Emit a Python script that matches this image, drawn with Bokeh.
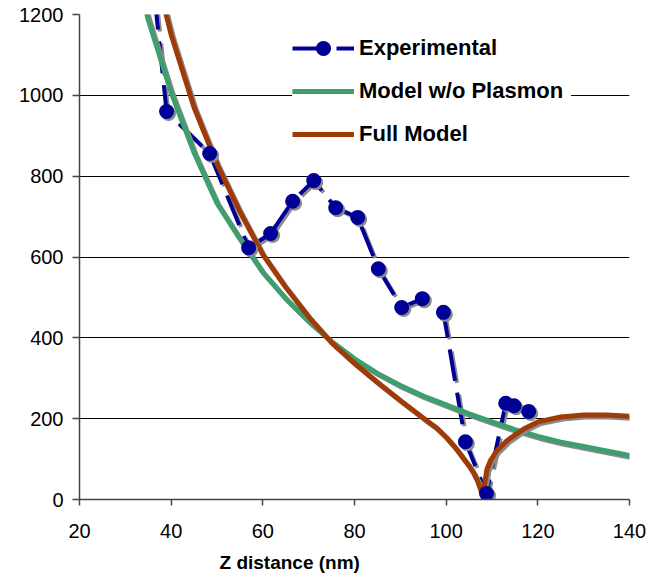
import numpy as np
from bokeh.plotting import figure
from bokeh.models import (FixedTicker, Legend, LegendItem, Title, Range1d)
from bokeh.embed import file_html
from bokeh.resources import INLINE

# ---- data ----
x_ticks = [20, 40, 60, 80, 100, 120, 140]
y_ticks = [0, 200, 400, 600, 800, 1000, 1200]

exp_x = [35.4, 39.0, 48.4, 56.9, 61.7, 66.5, 71.1, 75.9, 80.7, 85.2, 90.3, 94.8, 99.4,
         104.2, 108.8, 113.0, 114.8, 118.0]
exp_y = [1350, 960, 856, 623, 658, 738, 789, 722, 698, 571, 475, 497, 463,
         143, 15, 238, 232, 218]

nopl_x = [33, 35, 40, 45, 50, 55, 60, 65, 70, 75, 80, 85, 90, 95, 100, 105, 110,
          115, 120, 125, 130, 135, 140]
nopl_y = [1275, 1187, 1007, 858, 733, 645, 562, 497, 441, 391, 348, 312, 282, 256,
          234, 212, 192, 173, 156, 142, 131, 120, 109]

full_x = [38, 40, 45, 50, 55, 60, 65, 70, 75, 80, 85, 90, 93, 96, 98, 100, 102, 103,
          104, 105, 106, 106.8, 107.5, 108, 108.4, 108.9, 109.7, 111, 113.3, 117, 120,
          125, 130, 135, 140]
full_y = [1240, 1150, 970, 830, 712, 606, 525, 452, 388, 337, 290, 245, 219, 193, 176,
          154, 128, 113, 98, 83, 65, 47, 25, 8, 40, 75, 97, 120, 146, 175, 192,
          204, 209, 209, 206]

# ---- figure ----
W, H = 668, 582
BL, BR, BT, BB = 79, 39, 14, 83
X0, X1, Y0, Y1 = 20, 140, 0, 1200

p = figure(width=W, height=H, x_range=Range1d(X0, X1), y_range=Range1d(Y0, Y1),
           output_backend="svg", toolbar_location=None,
           min_border_left=BL, min_border_right=BR, min_border_top=BT, min_border_bottom=BB)
p.outline_line_color = None
p.background_fill_color = "white"

p.xgrid.visible = False
p.ygrid.grid_line_color = "black"
p.ygrid.grid_line_width = 1

p.xaxis.ticker = FixedTicker(ticks=x_ticks)
p.yaxis.ticker = FixedTicker(ticks=y_ticks)
for ax in (p.xaxis, p.yaxis):
    ax.minor_tick_line_color = None
    ax.axis_line_color = "#444444"
    ax.axis_line_width = 1.5
    ax.major_tick_line_color = "#444444"
    ax.major_tick_line_width = 1.5
    ax.major_tick_in = 0
    ax.major_label_text_font = "Liberation Sans"
    ax.major_label_text_font_size = "20px"
    ax.major_label_text_color = "black"
p.yaxis.major_tick_out = 7
p.yaxis.major_label_standoff = 9
p.xaxis.major_tick_out = 6
p.xaxis.major_label_standoff = 18

# pixel -> data offsets for the drop shadows
fw = W - BL - BR
fh = H - BT - BB
sdx = 2.0 * (X1 - X0) / fw
sdy = -2.0 * (Y1 - Y0) / fh

SH = "#8a8a8a"
BLUE = "#000096"
GREEN = "#3C9F6D"
ORANGE = "#A03A06"

ex = np.array(exp_x); ey = np.array(exp_y)
gx = np.array(nopl_x); gy = np.array(nopl_y)
fx = np.array(full_x); fy = np.array(full_y)

# experimental line (with shadow)
p.line(ex + sdx, ey + sdy, line_color=SH, line_width=4, line_dash="32 12")
exp_line = p.line(ex, ey, line_color=BLUE, line_width=4, line_dash="32 12")

# model without plasmon
p.line(gx + sdx, gy + sdy, line_color=SH, line_width=5)
g_line = p.line(gx, gy, line_color=GREEN, line_width=5)

# full model
p.line(fx + sdx, fy + sdy, line_color=SH, line_width=5)
o_line = p.line(fx, fy, line_color=ORANGE, line_width=5)

# experimental markers
p.scatter(ex + sdx, ey + sdy, marker="circle", size=15, fill_color=SH, line_color=None)
exp_pts = p.scatter(ex, ey, marker="circle", size=15, fill_color=BLUE, line_color=None)

legend = Legend(items=[
    LegendItem(label="Experimental", renderers=[exp_line, exp_pts]),
    LegendItem(label="Model w/o Plasmon", renderers=[g_line]),
    LegendItem(label="Full Model", renderers=[o_line]),
], location=(213, 346), padding=14, spacing=5, glyph_width=62, glyph_height=38,
    label_height=22, label_width=212, label_standoff=5, margin=0,
    label_text_font="Liberation Sans", label_text_font_style="bold",
    label_text_font_size="22px", label_text_color="black",
    border_line_color=None, background_fill_color="white", background_fill_alpha=1.0)
p.add_layout(legend)

p.add_layout(Title(text="Z distance (nm)", align="left", offset=140, standoff=18,
                   text_font="Liberation Sans", text_font_style="bold",
                   text_font_size="19px", text_color="black"), "below")

open("out.html", "w").write(file_html(p, INLINE))
